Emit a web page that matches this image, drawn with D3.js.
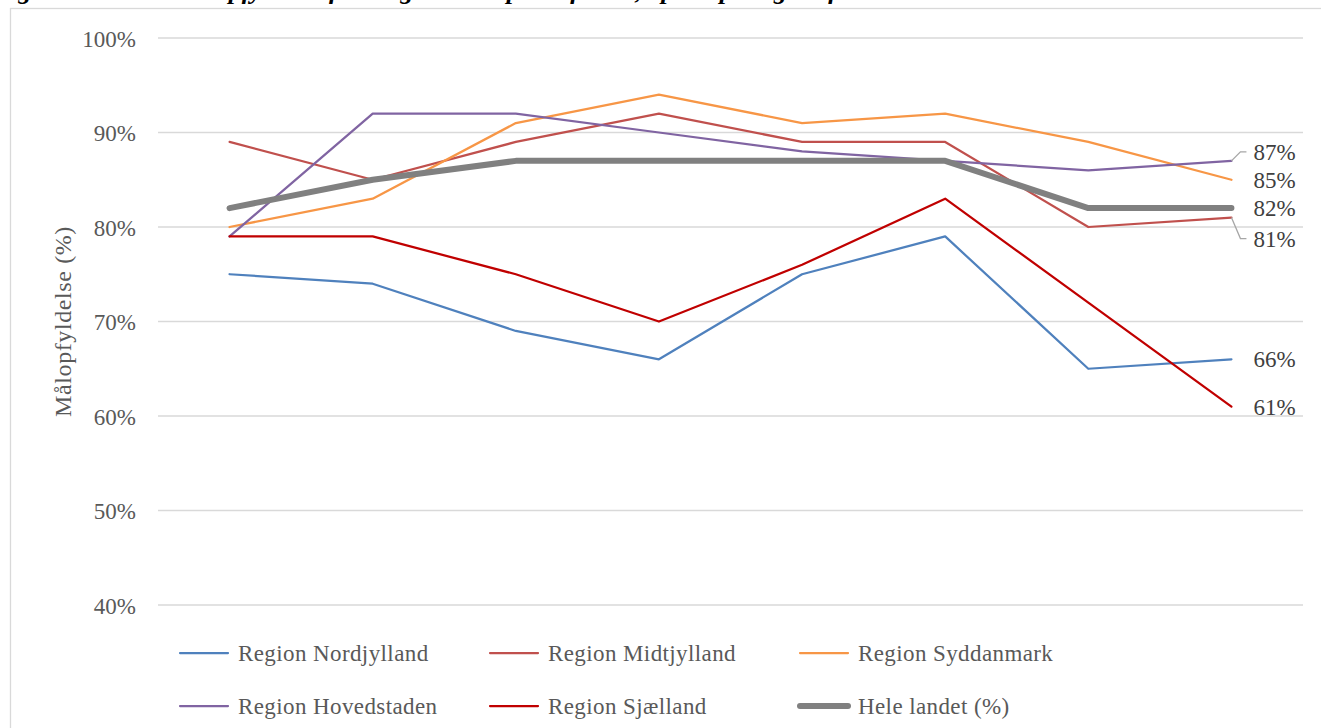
<!DOCTYPE html>
<html>
<head>
<meta charset="utf-8">
<script src="https://cdn.jsdelivr.net/npm/d3@7"></script>
<style>
  html, body { margin: 0; padding: 0; background: #fff; overflow: hidden; }
  svg { display: block; font-family: "Liberation Serif", "Times New Roman", serif; }
</style>
</head>
<body>
<svg width="1321" height="728"></svg>
<script>
// years (no category labels are shown on the axis in the source chart)
const years = ['2014', '2015', '2016', '2017', '2018', '2019', '2020', '2021'];

const nordjylland = [75, 74, 69, 66, 75, 79, 65, 66];
const midtjylland = [89, 85, 89, 92, 89, 89, 80, 81];
const syddanmark  = [80, 83, 91, 94, 91, 92, 89, 85];
const hovedstaden = [79, 92, 92, 90, 88, 87, 86, 87];
const sjaelland   = [79, 79, 75, 70, 76, 83, 72, 61];
const heleLandet  = [82, 85, 87, 87, 87, 87, 82, 82];

const yTicks = [40, 50, 60, 70, 80, 90, 100];

const series = [
  { name: 'Region Nordjylland', values: nordjylland, color: '#4f81bd', width: 2.25 },
  { name: 'Region Midtjylland', values: midtjylland, color: '#c0504d', width: 2.25 },
  { name: 'Region Syddanmark', values: syddanmark, color: '#f79646', width: 2.25 },
  { name: 'Region Hovedstaden', values: hovedstaden, color: '#8064a2', width: 2.25 },
  { name: 'Region Sjælland', values: sjaelland, color: '#c00000', width: 2.25 },
  { name: 'Hele landet (%)', values: heleLandet, color: '#808080', width: 6 }
];

// end labels: how far (px) each label is nudged from its point, and if it gets a leader
const endLabels = [
  { series: 3, dy: -9, leader: true },
  { series: 2, dy: 0 },
  { series: 5, dy: 0 },
  { series: 1, dy: 21, leader: true },
  { series: 0, dy: 0 },
  { series: 4, dy: 0 }
];

const svg = d3.select('svg');

// title line cut off by the top of the picture (as in the source)
svg.append('text')
  .attr('x', -6)
  .attr('y', -1)
  .style('font-size', '26px')
  .style('font-style', 'italic')
  .style('font-weight', 'bold')
  .style('fill', '#000')
  .text('Figur 10 Samlet målopfyldelse for diagnostiske pakkeforløb, opdelt på region fra 2014 til 2021');

// chart frame
svg.append('rect')
  .attr('x', 10.5).attr('y', 8.5)
  .attr('width', 1340).attr('height', 800)
  .attr('fill', '#fff')
  .attr('stroke', '#d9d9d9')
  .attr('stroke-width', 1.3);

const plotLeft = 158, plotRight = 1303, plotTop = 38, plotBottom = 605;

const x = d3.scalePoint().domain(years).range([plotLeft, plotRight]).padding(0.5);
const y = d3.scaleLinear().domain([40, 100]).range([plotBottom, plotTop]);

// gridlines
svg.append('g')
  .selectAll('line')
  .data(yTicks)
  .join('line')
    .attr('x1', plotLeft).attr('x2', plotRight)
    .attr('y1', d => y(d)).attr('y2', d => y(d))
    .attr('stroke', '#d9d9d9')
    .attr('stroke-width', 1.3);

// y axis labels
const yAxis = d3.axisLeft(y).tickValues(yTicks).tickSize(0).tickPadding(0).tickFormat(d => d + '%');
svg.append('g')
  .attr('transform', `translate(${plotLeft - 22},0)`)
  .call(yAxis)
  .call(g => g.select('.domain').remove())
  .call(g => g.selectAll('text')
    .attr('dy', '0.35em')
    .style('font-family', '"Liberation Serif", "Times New Roman", serif')
    .style('font-size', '23px')
    .style('fill', '#595959'));

svg.append('text')
  .attr('transform', `translate(71,${(plotTop + plotBottom) / 2}) rotate(-90)`)
  .attr('text-anchor', 'middle')
  .style('font-size', '24px')
  .style('letter-spacing', '0.6px')
  .style('fill', '#595959')
  .text('Målopfyldelse (%)');

// lines
const line = d3.line().x((d, i) => x(years[i])).y(d => y(d));
svg.append('g')
  .selectAll('path')
  .data(series)
  .join('path')
    .attr('d', d => line(d.values))
    .attr('fill', 'none')
    .attr('stroke', d => d.color)
    .attr('stroke-width', d => d.width)
    .attr('stroke-linejoin', 'round')
    .attr('stroke-linecap', 'round');

// end labels with leader lines
const lastYear = years[years.length - 1];
const lx = x(lastYear);
const labG = svg.append('g');
endLabels.forEach(l => {
  const s = series[l.series];
  const v = s.values[s.values.length - 1];
  const py = y(v);
  const ty = py + l.dy;
  if (l.leader) {
    labG.append('path')
      .attr('d', `M${lx},${py}L${lx + 9},${ty}L${lx + 15},${ty}`)
      .attr('fill', 'none')
      .attr('stroke', '#a6a6a6')
      .attr('stroke-width', 1.3);
  }
  labG.append('text')
    .attr('x', lx + 22)
    .attr('y', ty)
    .attr('dy', '0.35em')
    .style('font-size', '23px')
    .style('fill', '#404040')
    .text(v + '%');
});

// legend
const legendCols = [180, 490, 800];
const legendRows = [653, 706];
const leg = svg.append('g')
  .selectAll('g')
  .data(series)
  .join('g')
    .attr('transform', (d, i) => `translate(${legendCols[i % 3]},${legendRows[Math.floor(i / 3)]})`);
leg.append('line')
  .attr('x1', 0).attr('x2', 48)
  .attr('stroke', d => d.color)
  .attr('stroke-width', d => d.width)
  .attr('stroke-linecap', 'round');
leg.append('text')
  .attr('x', 58)
  .attr('dy', '0.35em')
  .style('font-size', '23px')
  .style('letter-spacing', '0.4px')
  .style('fill', '#595959')
  .text(d => d.name);
</script>
</body>
</html>
